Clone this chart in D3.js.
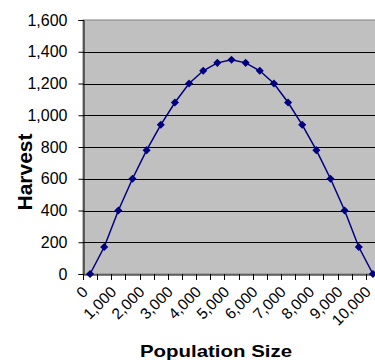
<!DOCTYPE html>
<html><head><meta charset="utf-8">
<script src="https://cdn.jsdelivr.net/npm/d3@7"></script>
<style>body{margin:0;background:#fff;}svg{display:block;font-family:"Liberation Sans",Arial,sans-serif;}</style>
</head><body>
<script>
const populations = [0,500,1000,1500,2000,2500,3000,3500,4000,4500,5000,5500,6000,6500,7000,7500,8000,8500,9000,9500,10000];
const harvest = [0,170,400,600,780,940,1080,1200,1280,1330,1350,1330,1280,1200,1080,940,780,600,400,170,0];
const yTicks = [0,200,400,600,800,1000,1200,1400,1600];
const xLabelEvery = 2;
const xTitle = "Population Size";
const yTitle = "Harvest";

const W = 375, H = 360;
const m = {left:83, top:20, right:-5, bottom:86};
const svg = d3.select("body").append("svg").attr("width",W).attr("height",H);
const x = d3.scaleBand().domain(populations).range([m.left, W - m.right]);
const y = d3.scaleLinear().domain([0,1600]).range([H - m.bottom, m.top]);
const fmt = d3.format(",");

svg.append("rect").attr("x",m.left).attr("y",m.top)
  .attr("width",(W-m.right)-m.left).attr("height",(H-m.bottom)-m.top)
  .attr("fill","#c0c0c0").attr("stroke","#808080").attr("stroke-width",1);

svg.append("g").selectAll("line").data(yTicks.filter(d=>d>0&&d<1600)).join("line")
  .attr("x1",m.left).attr("x2",W-m.right)
  .attr("y1",d=>Math.round(y(d))+0.5).attr("y2",d=>Math.round(y(d))+0.5)
  .attr("stroke","#000").attr("stroke-width",1);

// y axis
const ya = svg.append("g").attr("transform",`translate(${m.left+0.5},0)`)
  .call(d3.axisLeft(y).tickValues(yTicks).tickFormat(fmt).tickSize(5).tickPadding(11));
ya.select(".domain").attr("stroke","#000");
ya.selectAll(".tick line").attr("stroke","#000");
ya.selectAll("text").attr("font-size",16).attr("fill","#000").attr("font-family","Liberation Sans, Arial, sans-serif");

// x axis
const xa = svg.append("g").attr("transform",`translate(0,${Math.round(y(0))+0.5})`)
  .call(d3.axisBottom(x).tickSize(0).tickFormat(""));
xa.select(".domain").attr("stroke","#000");
const bounds = populations.map(p=>x(p)).concat([x(populations[populations.length-1])+x.bandwidth()]);
svg.append("g").selectAll("line").data(bounds).join("line")
  .attr("x1",d=>Math.round(d)+0.5).attr("x2",d=>Math.round(d)+0.5)
  .attr("y1",Math.round(y(0))).attr("y2",Math.round(y(0))+6)
  .attr("stroke","#000");

svg.append("g").selectAll("text").data(populations.filter((d,i)=>i%xLabelEvery===0)).join("text")
  .attr("transform",d=>`translate(${x(d)+x.bandwidth()/2-4},${y(0)+16}) rotate(-45)`)
  .attr("text-anchor","end").attr("dominant-baseline","middle")
  .attr("font-size",15.5).attr("fill","#000").text(d=>fmt(d));

// line
const line = d3.line().x((d,i)=>x(populations[i])+x.bandwidth()/2).y(d=>y(d));
svg.append("path").datum(harvest).attr("d",line).attr("fill","none")
  .attr("stroke","#000080").attr("stroke-width",1.5);
svg.append("g").selectAll("path").data(harvest).join("path")
  .attr("d",d3.symbol(d3.symbolDiamond2,42))
  .attr("transform",(d,i)=>`translate(${x(populations[i])+x.bandwidth()/2},${y(d)})`)
  .attr("fill","#000080");

svg.append("text").attr("x",216).attr("y",357).attr("text-anchor","middle")
  .attr("font-size",17).attr("font-weight","bold").attr("textLength",152).attr("lengthAdjust","spacingAndGlyphs").text(xTitle);
svg.append("text").attr("transform",`translate(32,172) rotate(-90)`).attr("text-anchor","middle")
  .attr("font-size",21).attr("font-weight","bold").text(yTitle);
</script>
</body></html>
